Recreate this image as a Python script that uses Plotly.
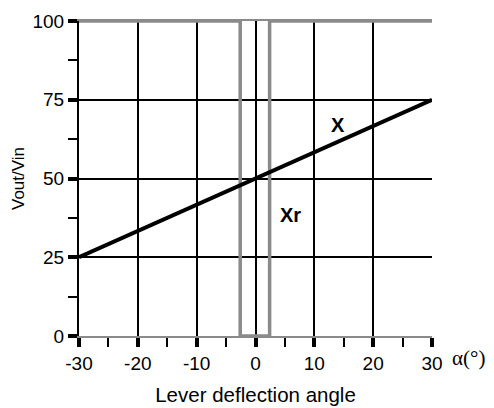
import plotly.graph_objects as go

# Data
angle_range = [-30, 30]
x_signal_angle = [-30, 30]
x_signal = [25, 75]
xr_angle = [-30, -2.6, -2.6, 2.4, 2.4, 30]
xr_signal = [100, 100, 0, 0, 100, 100]
x_tick_vals = [-30, -20, -10, 0, 10, 20, 30]
x_tick_text = ["-30", "-20", "-10", "0", "10", "20", "30"]
y_tick_vals = [0, 25, 50, 75, 100]
y_tick_text = ["0", "25", "50", "75", "100"]

FONT = "Liberation Sans, Arial, sans-serif"
GRAY = "#8a8a8a"

fig = go.Figure()
fig.add_trace(go.Scatter(x=xr_angle, y=xr_signal, mode="lines",
                         line=dict(color=GRAY, width=3.5), showlegend=False,
                         hoverinfo="skip"))
fig.add_trace(go.Scatter(x=x_signal_angle, y=x_signal, mode="lines",
                         line=dict(color="black", width=4), showlegend=False,
                         hoverinfo="skip"))

fig.update_layout(
    width=486, height=400,
    margin=dict(l=71, r=62, t=13, b=72),
    paper_bgcolor="white", plot_bgcolor="white",
    font=dict(family=FONT, color="black", size=19),
    showlegend=False,
    xaxis=dict(
        range=angle_range, tickvals=x_tick_vals, ticktext=x_tick_text,
        ticks="outside", ticklen=9, tickwidth=4, tickcolor="black",
        minor=dict(ticks="outside", dtick=5, ticklen=9, tickwidth=2, tickcolor="black", showgrid=False),
        showgrid=True, gridcolor="black", gridwidth=2,
        zeroline=False,
        showline=True, linecolor=GRAY, linewidth=1.5, mirror=True,
        tickfont=dict(size=19),
        title=dict(text="Lever deflection angle", font=dict(size=20.5), standoff=15),
        automargin=False, fixedrange=True,
    ),
    yaxis=dict(
        range=[0, 100], tickvals=y_tick_vals, ticktext=y_tick_text,
        ticks="outside", ticklen=9, tickwidth=4, tickcolor="black",
        minor=dict(ticks="outside", dtick=12.5, ticklen=9, tickwidth=2, tickcolor="black", showgrid=False),
        showgrid=True, gridcolor="black", gridwidth=2,
        zeroline=False,
        showline=True, linecolor="black", linewidth=2,
        tickfont=dict(size=19),
        title=dict(text="Vout/Vin", font=dict(size=17), standoff=4),
        automargin=False, fixedrange=True,
    ),
    yaxis2=dict(
        range=[0, 100], overlaying="y", side="right", anchor="x",
        showline=True, linecolor=GRAY, linewidth=1.5,
        showticklabels=False, ticks="", showgrid=False, zeroline=False,
        fixedrange=True,
    ),
    annotations=[
        dict(x=14, y=67, xref="x", yref="y", text="<b>X</b>", showarrow=False,
             font=dict(size=20, family=FONT)),
        dict(x=5.9, y=38.4, xref="x", yref="y", text="<b>Xr</b>", showarrow=False,
             font=dict(size=20, family=FONT)),
        dict(x=1.103, y=-0.07, xref="paper", yref="paper", text="α(°)", showarrow=False,
             xanchor="center", yanchor="middle",
             font=dict(size=21, family="Liberation Serif, Times New Roman, serif")),
    ],
)

fig.write_html("out.html")
